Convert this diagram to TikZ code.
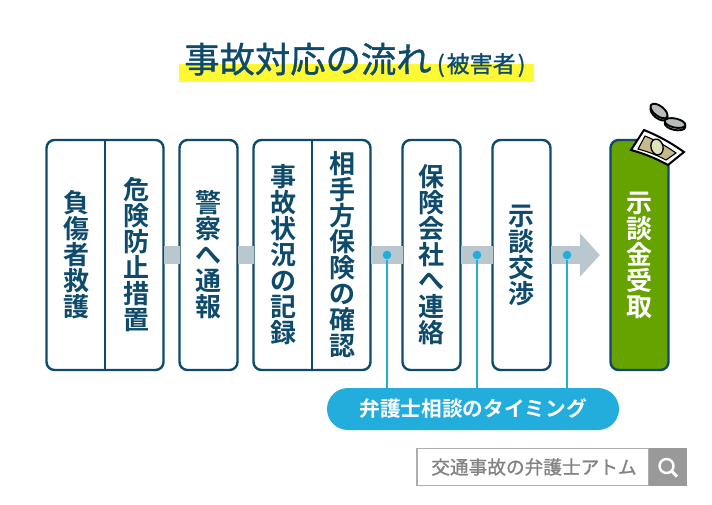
\documentclass[tikz,border=0pt]{standalone}
\usepackage{fontspec}
\newfontfamily\cjk[FakeBold=1]{Noto Sans CJK JP}
\newfontfamily\cjkmed{Noto Sans CJK JP Bold}
\usetikzlibrary{arrows.meta,positioning}
\definecolor{navy}{HTML}{0E4A6B}
\definecolor{leaf}{HTML}{66A200}
\definecolor{sky}{HTML}{22ADDD}
\definecolor{band}{HTML}{B9C8CE}
\definecolor{marker}{HTML}{FFF833}
\definecolor{stone}{HTML}{999999}
\definecolor{note}{HTML}{C8B98A}
\definecolor{face}{HTML}{DDE4B8}
\definecolor{metal}{HTML}{B9BDB9}
\begin{document}
\begin{tikzpicture}[%
    x=0.75pt, y=-0.75pt,        % One unit is one pixel of the reference
    node distance=0pt and 12pt,
    ]
% -------------------------------------------------
% A few box styles
\tikzset{
  base/.style={draw=navy, line width=1.8pt, rounded corners=6pt, fill=white,
    minimum height=172.5pt, inner sep=0pt, outer sep=0pt, align=center},
  tate/.style={font=\fontsize{19.5}{19.5}\selectfont\cjkmed, text=navy, align=center, inner sep=0pt},
  narrow/.style={base, tate, minimum width=43.5pt},
  wide/.style={base, minimum width=87.75pt},
  % Connector line styles
  flow/.style={draw=band, line width=13.5pt},
  tick/.style={draw=sky, line width=1pt},
  dot/.style={circle, fill=sky, minimum size=6.5pt, inner sep=0pt},
  coin/.style={draw=black, line width=1.4pt, fill=metal}
}
\useasboundingbox (0,0) rectangle (712,504);
% -------------------------------------------------
% Title
\node [fill=marker, minimum width=266pt, minimum height=13.5pt, inner sep=0pt] (mark) at (356.5,73) {};
\node [font=\fontsize{26.5}{30}\selectfont\cjk, text=navy, inner sep=0pt, anchor=base west] (title) at (184,72.5)
  {事故対応の流れ\hspace{4pt}{\fontsize{17.25}{20}\selectfont (\hspace{1.5pt}被害者\hspace{1.5pt})}};
% -------------------------------------------------
% Start by placing the boxes
\node [wide] (b1) at (105,255) {};
\node [narrow, right=of b1] (b2) {警\\察\\へ\\通\\報};
\node [wide, right=of b2] (b3) {};
\node [narrow, right=24pt of b3] (b4) {保\\険\\会\\社\\へ\\連\\絡};
\node [narrow, right=24pt of b4] (b5) {示\\談\\交\\渉};
\node [narrow, right=45pt of b5, fill=leaf, text=white] (b6) {示\\談\\金\\受\\取};
\draw [navy, line width=1.5pt] (b1.north) -- (b1.south);
\draw [navy, line width=1.5pt] (b3.north) -- (b3.south);
\node [tate] (t1) at (76,255) {負\\傷\\者\\救\\護};
\node [tate] (t2) at (136,255) {危\\険\\防\\止\\措\\置};
\node [tate] (t3) at (283,255) {事\\故\\状\\況\\の\\記\\録};
\node [tate] (t4) at (342,255) {相\\手\\方\\保\\険\\の\\確\\認};

% Flow between the boxes
\draw [flow] (b1) -- (b2);
\draw [flow] (b2) -- (b3);
\draw [flow] (b3) -- (b4);
\draw [flow] (b4) -- (b5);
\draw [flow, -{Triangle[length=15pt, width=32pt, color=band]}, shorten >=8pt] (b5) -- (b6);

% -------------------------------------------------
% Timing pill and its ticks
\node [fill=sky, text=white, rounded corners=15.75pt, minimum width=219pt, minimum height=31.5pt,
  inner sep=0pt, font=\fontsize{15.5}{18}\selectfont\cjkmed] (pill) at (473,409) {弁護士相談のタイミング};
\node [dot] (d1) at (387,255) {};
\node [dot] (d2) at (477,255) {};
\node [dot] (d3) at (567,255) {};
\draw [tick] (d1) -- (d1 |- pill.north);
\draw [tick] (d2) -- (d2 |- pill.north);
\draw [tick] (d3) -- (d3 |- pill.north);

% -------------------------------------------------
% Search box
\node [draw=stone!80, line width=1pt, minimum width=174pt, minimum height=27.5pt, inner sep=0pt] (search) at (533,467) {};
\node [font=\fontsize{14}{16}\selectfont\cjk, text=stone!85!black, inner sep=0pt] (word) at (534,467) {交通事故の弁護士アトム};
\node [fill=stone, minimum size=28.5pt, inner sep=0pt] (btn) at (668,467) {};
\draw [white, line width=1.8pt] (666.5,466) circle (7);
\draw [white, line width=2.2pt] (671.5,471) -- (677,476.5);

% -------------------------------------------------
% Banknote and coins
\draw [black, line width=1.5pt, fill=white] (644,130) to[bend left=6] (684,152) -- (668,165) to[bend right=6] (631,150) -- cycle;
\draw [black, line width=.8pt, fill=note] (645,136) to[bend left=6] (676,153) -- (666,160) to[bend right=6] (638,149) -- cycle;
\draw [black, line width=1pt, fill=face] (657,147) ellipse [x radius=6, y radius=8, rotate=15];
\draw [coin] (659,113) ellipse [x radius=10, y radius=5.5, rotate=-38];
\draw [coin] (659,111) ellipse [x radius=10, y radius=5, rotate=-38];
\draw [coin] (675,125) ellipse [x radius=10.5, y radius=5, rotate=-12];
\draw [coin] (675,123) ellipse [x radius=10.5, y radius=4.5, rotate=-12];
% -------------------------------------------------
\end{tikzpicture}
\end{document}
